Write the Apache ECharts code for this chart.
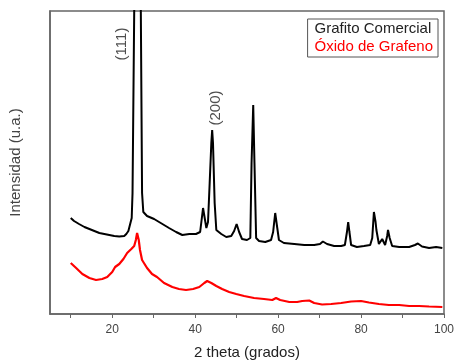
<!DOCTYPE html>
<html>
<head>
<meta charset="utf-8">
<script src="https://cdn.jsdelivr.net/npm/echarts@6/dist/echarts.min.js"></script>
<style>
  html, body { margin: 0; padding: 0; background: #fff; }
  #chart { width: 454px; height: 360px; }
</style>
</head>
<body>
<div id="chart"></div>
<script>
// 2 theta (grados), intensity in arbitrary units
const grafitoTheta = [10.0, 10.8, 12.0, 13.3, 14.5, 15.7, 16.9, 18.1, 19.3, 20.5, 21.7, 22.9, 23.4, 23.9, 24.3, 24.7, 24.9, 25.3, 26.1, 26.9, 27.2, 27.5, 28.4, 30.1, 31.3, 33.7, 35.4, 36.9, 38.6, 40.2, 41.2, 41.7, 41.9, 42.3, 42.7, 43.1, 43.5, 43.9, 44.1, 44.3, 44.7, 45.1, 46.3, 47.5, 48.7, 49.4, 50.0, 50.6, 51.3, 52.5, 53.3, 53.6, 54.0, 54.3, 54.7, 55.4, 56.9, 58.3, 58.8, 59.3, 59.8, 60.2, 61.4, 63.9, 66.3, 68.7, 70.1, 70.8, 71.8, 73.5, 75.2, 76.1, 76.6, 76.9, 77.2, 77.6, 79.0, 80.7, 82.2, 82.7, 83.1, 83.5, 83.7, 84.3, 85.1, 85.8, 86.3, 86.5, 86.9, 87.5, 89.2, 91.6, 93.0, 93.7, 94.7, 96.4, 98.1, 99.6];
const grafitoInt = [96, 93, 90, 87, 85, 83, 81, 80, 79, 78, 77.5, 78, 80, 83, 84, 96, 121, 301, 700, 303, 121, 102, 98, 95, 92, 86, 82, 79, 80, 80, 82, 99, 106, 96, 86, 92, 131, 171, 184, 171, 111, 84, 80, 77, 78, 83, 90, 82, 75, 74, 76, 151, 209, 151, 76, 73, 72, 74, 82, 101, 86, 74, 71, 70, 69, 69, 70, 72.5, 70, 68, 68, 69, 82, 92, 82, 69, 67, 68, 69, 76, 102, 92, 84, 70, 75, 69, 78, 84, 76, 68, 67, 67, 69, 70.5, 67.5, 66, 67, 66];

const oxidoTheta = [10.0, 11.3, 12.8, 14.5, 16.1, 17.6, 18.8, 20.0, 20.7, 21.7, 22.7, 23.6, 24.6, 25.3, 25.7, 26.0, 26.4, 26.7, 27.2, 28.4, 29.6, 30.8, 32.5, 34.5, 36.1, 37.8, 39.5, 41.0, 42.2, 42.9, 43.9, 45.1, 46.5, 48.2, 49.9, 51.8, 54.2, 56.6, 58.6, 59.5, 60.5, 62.7, 64.6, 65.8, 67.5, 68.7, 70.6, 72.8, 75.2, 77.6, 80.0, 81.9, 84.3, 86.7, 89.2, 91.6, 94.0, 96.4, 99.6];
const oxidoInt = [51, 46, 40, 36, 34, 35, 37, 42, 47, 50, 55, 61, 65, 68, 74, 81, 74, 64, 54, 46, 40, 37, 31, 27, 25, 24, 25, 27, 31, 33, 31, 28, 25, 22, 20, 18, 16, 15, 14, 16, 14, 12, 12, 13, 13.5, 11, 9.5, 10, 11, 12.5, 13, 11.5, 10, 9, 9, 8, 8, 7.5, 7];

const seriesNames = ['Grafito Comercial', 'Óxido de Grafeno'];
const seriesColors = ['#000000', '#ff0000'];

// peak labels: [2 theta, intensity, text]
const peakLabels = [[22.4, 270, '(111)'], [45.0, 206, '(200)']];

const xLabelValues = [20, 40, 60, 80, 100];
const xTickValues = [10, 20, 30, 40, 50, 60, 70, 80, 90, 100];

const zip = (xs, ys) => xs.map((x, i) => [x, ys[i]]);

const chart = echarts.init(document.getElementById('chart'), null, { renderer: 'canvas' });

const option = {
  animation: false,
  textStyle: { fontFamily: 'Liberation Sans, Arial, sans-serif' },
  grid: {
    left: 50, right: 10, top: 11, bottom: 46,
    outerBoundsMode: 'none',
    show: true, borderColor: '#666', borderWidth: 1.5, backgroundColor: 'transparent'
  },
  legend: {
    top: 19, right: 16,
    orient: 'vertical',
    itemWidth: 0, itemHeight: 0, itemGap: 3,
    icon: 'none',
    padding: [2, 5, 3, 2],
    borderColor: '#555', borderWidth: 1,
    selectedMode: false,
    textStyle: { fontSize: 15, padding: 0 },
    data: seriesNames.map((n, i) => ({ name: n, textStyle: { color: i === 0 ? '#222' : seriesColors[i] } }))
  },
  xAxis: {
    type: 'value',
    min: 5, max: 100,
    name: '2 theta (grados)',
    nameLocation: 'middle',
    nameGap: 31,
    nameTextStyle: { fontSize: 15, color: '#222' },
    axisLine: { show: true, lineStyle: { color: '#666', width: 1.5 } },
    axisTick: { show: true, customValues: xTickValues, length: 4, lineStyle: { color: '#666' } },
    axisLabel: { customValues: xLabelValues, fontSize: 12, color: '#444', margin: 10 },
    splitLine: { show: false }
  },
  yAxis: {
    type: 'value',
    min: 0, max: 303,
    name: 'Intensidad (u.a.)',
    nameLocation: 'middle',
    nameGap: 27,
    nameTextStyle: { fontSize: 15, color: '#444' },
    axisLine: { show: true, lineStyle: { color: '#666', width: 1.5 } },
    axisTick: { show: false },
    axisLabel: { show: false },
    splitLine: { show: false }
  },
  series: [
    {
      name: seriesNames[0], type: 'line', data: zip(grafitoTheta, grafitoInt),
      symbol: 'none', clip: true, color: seriesColors[0],
      lineStyle: { width: 2, color: seriesColors[0] }
    },
    {
      name: seriesNames[1], type: 'line', data: zip(oxidoTheta, oxidoInt),
      symbol: 'none', clip: true, color: seriesColors[1],
      lineStyle: { width: 2.2, color: seriesColors[1] }
    },
    {
      name: 'picos', type: 'scatter', data: peakLabels,
      symbolSize: 0, silent: true,
      label: {
        show: true, rotate: 90, position: 'inside',
        formatter: p => p.data[2],
        fontSize: 15, color: '#222'
      }
    }
  ]
};

chart.setOption(option);
</script>
</body>
</html>
